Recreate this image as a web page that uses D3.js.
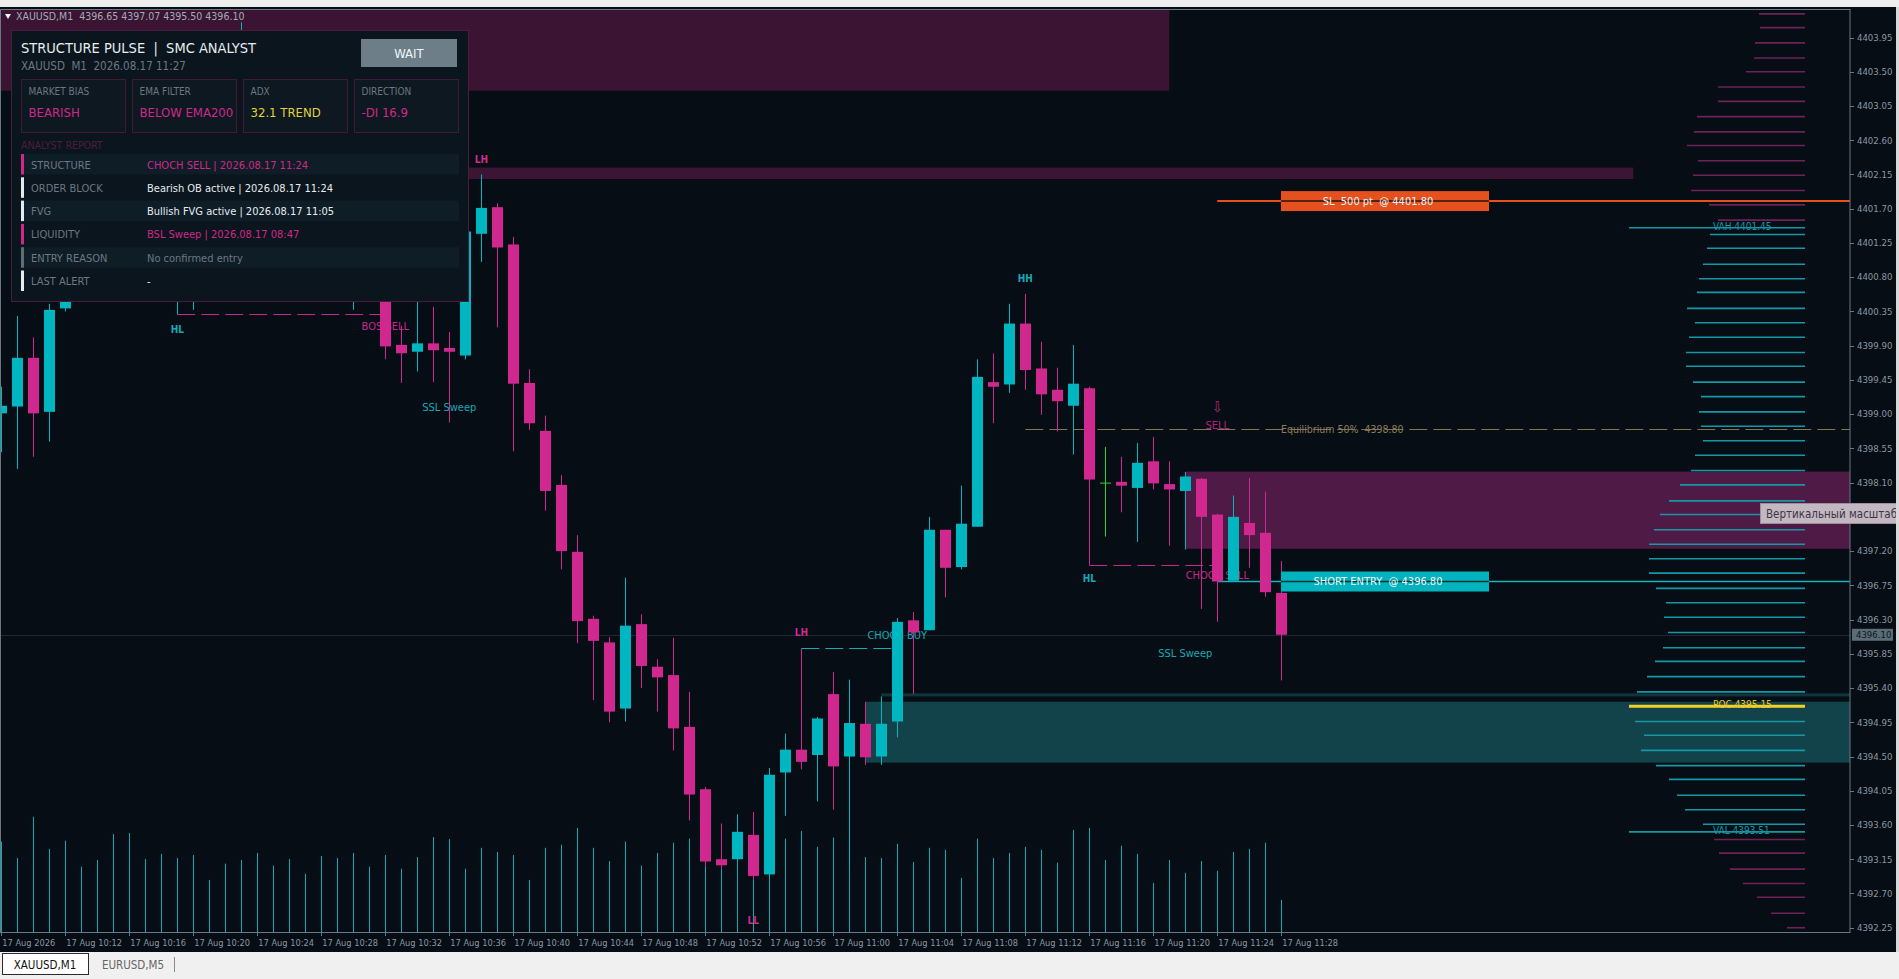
<!DOCTYPE html>
<html lang="en">
<head>
<meta charset="utf-8">
<script src="https://d3js.org/d3.v7.min.js"></script>
<style>
  body { margin: 0; background: #070d15; overflow: hidden; }
  text { font-family: 'Liberation Sans Narrow', 'DejaVu Sans Condensed', 'Arial Narrow', Roboto, sans-serif; white-space: pre; }
</style>
</head>
<body>
<script>
// XAUUSD M1, 17 Aug 2026 10:08 .. 11:28 (one bar per minute)
var OPEN  = [4399.01,4399.10,4399.74,4399.03,4400.39,4400.52,4400.98,4401.48,4401.10,4400.72,4401.02,4400.64,4401.28,4401.95,4402.62,4403.35,4403.45,4402.75,4402.10,4401.45,4401.70,4401.05,4400.85,4401.00,4400.68,4399.91,4399.82,4399.93,4399.87,4399.77,4401.37,4401.72,4401.23,4399.41,4398.78,4398.07,4397.19,4396.31,4396.00,4395.13,4396.24,4395.68,4395.57,4394.89,4394.07,4393.15,4393.15,4393.47,4392.95,4394.29,4394.59,4394.52,4395.32,4394.50,4394.93,4394.50,4394.96,4396.29,4396.16,4397.48,4396.99,4397.52,4399.42,4399.39,4400.19,4399.60,4399.32,4399.11,4399.34,4398.10,4398.11,4398.03,4398.38,4398.08,4397.99,4398.15,4397.68,4396.81,4397.57,4397.44,4396.65];
var HIGH  = [4399.36,4400.29,4400.01,4400.45,4400.62,4401.10,4401.62,4401.75,4401.35,4401.20,4401.18,4401.40,4402.15,4402.85,4403.55,4404.15,4403.70,4403.05,4402.40,4401.90,4401.85,4401.40,4401.20,4401.25,4400.80,4400.16,4400.50,4400.41,4400.08,4401.45,4402.15,4401.77,4401.33,4399.59,4398.98,4398.20,4397.41,4396.35,4396.07,4396.85,4396.37,4395.78,4396.06,4395.35,4394.10,4393.62,4393.74,4393.77,4394.35,4394.80,4395.92,4395.02,4395.61,4395.51,4395.22,4395.29,4396.32,4396.40,4397.65,4397.48,4398.06,4399.72,4399.80,4400.45,4400.58,4399.95,4399.61,4399.91,4399.36,4398.57,4398.44,4398.62,4398.70,4398.38,4398.24,4398.16,4397.69,4397.93,4398.16,4397.98,4397.07];
var LOW   = [4398.50,4398.28,4398.44,4398.64,4400.35,4400.50,4400.85,4400.95,4400.60,4400.55,4400.52,4400.31,4400.37,4401.80,4402.45,4403.20,4402.60,4401.95,4401.30,4401.10,4400.90,4400.60,4400.37,4400.55,4399.72,4399.41,4399.56,4399.42,4398.89,4399.72,4401.00,4400.14,4398.51,4398.79,4397.73,4396.96,4395.99,4395.24,4394.95,4394.96,4395.40,4395.09,4394.58,4393.66,4393.05,4393.02,4393.10,4392.88,4392.90,4393.72,4394.33,4393.91,4393.80,4393.05,4394.39,4394.39,4394.75,4395.32,4396.16,4396.59,4396.96,4397.52,4398.88,4399.28,4399.32,4398.99,4398.77,4398.47,4397.02,4397.39,4397.71,4397.32,4398.01,4397.27,4397.22,4396.44,4396.27,4396.81,4396.98,4396.60,4395.50];
var CLOSE = [4399.11,4399.74,4399.01,4400.37,4400.52,4400.98,4401.48,4401.10,4400.72,4401.02,4400.64,4401.28,4401.95,4402.62,4403.35,4403.45,4402.75,4402.10,4401.45,4401.70,4401.05,4400.85,4401.00,4400.68,4399.89,4399.80,4399.93,4399.84,4399.82,4401.40,4401.71,4401.19,4399.40,4398.88,4397.99,4397.20,4396.28,4396.02,4395.09,4396.22,4395.69,4395.54,4394.87,4394.00,4393.12,4393.07,4393.51,4392.93,4394.26,4394.59,4394.43,4395.00,4394.37,4394.94,4394.49,4394.93,4396.27,4396.13,4397.48,4396.98,4397.56,4399.49,4399.36,4400.19,4399.58,4399.26,4399.17,4399.40,4398.14,4398.10,4398.06,4398.36,4398.09,4398.01,4398.18,4397.65,4396.80,4397.65,4397.41,4396.66,4396.10];
var VOLUME = [177,145,226,163,179,128,141,192,194,143,153,145,151,102,134,141,155,130,143,114,149,145,155,128,151,124,147,186,182,124,165,157,151,102,165,171,204,165,139,177,130,155,175,183,171,153,138,159,133,183,198,167,185,150,147,145,173,137,165,161,106,183,145,155,167,161,136,200,204,141,169,153,96,141,116,139,120,157,163,175,63];

var TIME_LABELS = ["17 Aug 2026","17 Aug 10:12","17 Aug 10:16","17 Aug 10:20","17 Aug 10:24","17 Aug 10:28","17 Aug 10:32","17 Aug 10:36","17 Aug 10:40","17 Aug 10:44","17 Aug 10:48","17 Aug 10:52","17 Aug 10:56","17 Aug 11:00","17 Aug 11:04","17 Aug 11:08","17 Aug 11:12","17 Aug 11:16","17 Aug 11:20","17 Aug 11:24","17 Aug 11:28"];
var PRICE_TICKS = [4392.25,4392.70,4393.15,4393.60,4394.05,4394.50,4394.95,4395.40,4395.85,4396.30,4396.75,4397.20,4397.65,4398.10,4398.55,4399.00,4399.45,4399.90,4400.35,4400.80,4401.25,4401.70,4402.15,4402.60,4403.05,4403.50,4403.95];

// volume profile (price of bin, volume)
var PROFILE_PRICE = [4404.26,4404.08,4403.88,4403.68,4403.50,4403.30,4403.11,4402.91,4402.71,4402.53,4402.33,4402.14,4401.94,4401.75,4401.55,4401.36,4401.18,4400.97,4400.78,4400.60,4400.39,4400.20,4400.01,4399.81,4399.63,4399.42,4399.23,4399.03,4398.84,4398.65,4398.46,4398.26,4398.07,4397.86,4397.68,4397.48,4397.29,4397.10,4396.91,4396.71,4396.52,4396.33,4396.13,4395.93,4395.75,4395.55,4395.35,4395.16,4394.96,4394.78,4394.58,4394.38,4394.20,4393.99,4393.80,4393.61,4393.41,4393.23,4393.02,4392.83,4392.65,4392.44,4392.25];
var PROFILE_VOL = [46,45,50,51,59,87,87,108,111,118,107,112,114,96,87,95,98,102,106,108,118,110,116,119,119,112,104,106,104,102,110,114,125,136,145,151,156,156,156,149,139,141,137,142,150,158,168,176,170,161,164,149,136,128,120,102,91,86,75,62,48,34,18];
var VAH = 4401.45, POC = 4395.15, VAL = 4393.51;

// levels
var LAST_PRICE = 4396.10;
var EQUILIBRIUM = 4398.80;
var ENTRY = 4396.80;
var STOP = 4401.80;

// zones: [fromBar, toBar (or null = right edge), low, high, colour]
var ZONE_FROM = [-2, 14, 74, 54, 55];
var ZONE_TO   = [73, 102, null, null, null];
var ZONE_LOW  = [4403.25, 4402.09, 4397.23, 4394.42, 4395.29];
var ZONE_HIGH = [4404.60, 4402.24, 4398.245, 4395.22, 4395.33];
var ZONE_FILL = ["#3a1432", "#3c1535", "#4f1a45", "#12434a", "#0f353c"];

// structure lines: [fromBar, toBar, price, colour]
var SWING_FROM  = [11, 50, 68];
var SWING_TO    = [24, 56, 76];
var SWING_PRICE = [4400.31, 4395.92, 4397.02];
var SWING_COLOR = ["#c4288a", "#16aab5", "#c4288a"];

// chart labels
var LABEL_TEXT  = ["HL","BOS SELL","LH","SSL Sweep","LH","CHOCH BUY","LL","HH","HL","CHOCH SELL","SSL Sweep","SELL","\u21e9"];
var LABEL_BAR   = [11, 24, 30, 28, 50, 56, 47, 64, 68, 76, 74, 76, 76];
var LABEL_PRICE = [4400.11, 4400.15, 4402.34, 4399.09, 4396.13, 4396.09, 4392.34, 4400.78, 4396.84, 4396.88, 4395.86, 4398.85, 4399.10];
var LABEL_COLOR = ["#16aab5","#c4288a","#d12a8e","#16aab5","#d12a8e","#16aab5","#d12a8e","#16aab5","#16aab5","#c4288a","#16aab5","#b0237c","#b0237c"];

// dashboard panel
var BOX_LABELS = ["MARKET BIAS", "EMA FILTER", "ADX", "DIRECTION"];
var BOX_VALUES = ["BEARISH", "BELOW EMA200", "32.1 TREND", "-DI 16.9"];
var BOX_COLORS = ["#d0288a", "#d0288a", "#e0d23a", "#d0288a"];
var ROW_LABELS = ["STRUCTURE", "ORDER BLOCK", "FVG", "LIQUIDITY", "ENTRY REASON", "LAST ALERT"];
var ROW_VALUES = ["CHOCH SELL | 2026.08.17 11:24", "Bearish OB active | 2026.08.17 11:24", "Bullish FVG active | 2026.08.17 11:05", "BSL Sweep | 2026.08.17 08:47", "No confirmed entry", "-"];
var ROW_COLORS = ["#d0288a", "#e6ecef", "#e6ecef", "#d0288a", "#6c7882", "#e6ecef"];
var ROW_ACCENT = ["#d0288a", "#e3e9ec", "#e3e9ec", "#d0288a", "#5f6d76", "#e3e9ec"];

var width = 1899, height = 979;
var chartR = 1850, chartT = 9, chartB = 932;
var CYAN = "#00b7c1", MAGENTA = "#d1288f", DOJI = "#2ed12e";

var x = d3.scaleLinear().domain([0, 80]).range([1.3, 1281.3]);
var y = d3.scaleLinear().domain([4392.25, 4403.95]).range([927.7, 37.5]);
var volH = d3.scaleLinear().domain([0, 196]).range([0, 100]);
var profW = d3.scaleLinear().domain([0, 176]).range([0, 176]);
var profRight = 1805;

var svg = d3.select("body").append("svg")
    .attr("width", width)
    .attr("height", height);

svg.append("rect").attr("width", width).attr("height", height).attr("fill", "#070d15");

svg.append("defs").append("clipPath").attr("id", "plot")
  .append("rect").attr("x", 0).attr("y", chartT).attr("width", chartR).attr("height", chartB - chartT);

var plot = svg.append("g").attr("clip-path", "url(#plot)");

// zones
plot.selectAll("rect.zone")
  .data(ZONE_LOW)
  .enter().append("rect")
  .attr("class", "zone")
  .attr("x", function(d, i) { return x(ZONE_FROM[i]); })
  .attr("width", function(d, i) { return (ZONE_TO[i] === null ? chartR : x(ZONE_TO[i])) - x(ZONE_FROM[i]); })
  .attr("y", function(d, i) { return y(ZONE_HIGH[i]); })
  .attr("height", function(d, i) { return y(ZONE_LOW[i]) - y(ZONE_HIGH[i]); })
  .attr("fill", function(d, i) { return ZONE_FILL[i]; });

// current price line
plot.append("line")
  .attr("x1", 0).attr("x2", chartR)
  .attr("y1", Math.round(y(LAST_PRICE)) + 0.5).attr("y2", Math.round(y(LAST_PRICE)) + 0.5)
  .attr("stroke", "#1c2832");

// volumes
plot.selectAll("line.vol")
  .data(VOLUME)
  .enter().append("line")
  .attr("class", "vol")
  .attr("x1", function(d, i) { return Math.round(x(i)) + 0.5; })
  .attr("x2", function(d, i) { return Math.round(x(i)) + 0.5; })
  .attr("y1", chartB)
  .attr("y2", function(d) { return chartB - volH(d); })
  .attr("stroke", "#14a9b4");

// swing lines
plot.selectAll("line.swing")
  .data(SWING_PRICE)
  .enter().append("line")
  .attr("x1", function(d, i) { return x(SWING_FROM[i]); })
  .attr("x2", function(d, i) { return x(SWING_TO[i]); })
  .attr("y1", function(d) { return Math.round(y(d)) + 0.5; })
  .attr("y2", function(d) { return Math.round(y(d)) + 0.5; })
  .attr("stroke", function(d, i) { return SWING_COLOR[i]; })
  .attr("stroke-dasharray", "18,6");

// equilibrium
plot.append("line")
  .attr("x1", x(64)).attr("x2", chartR)
  .attr("y1", Math.round(y(EQUILIBRIUM)) + 0.5).attr("y2", Math.round(y(EQUILIBRIUM)) + 0.5)
  .attr("stroke", "#857552")
  .attr("stroke-dasharray", "18,6");
plot.append("text")
  .attr("x", 1281).attr("y", y(EQUILIBRIUM)).attr("dy", "0.35em")
  .attr("fill", "#8c7b56").attr("font-size", 10.5)
  .text("Equilibrium 50%  4398.80");

// stop and entry lines
plot.append("line")
  .attr("x1", x(76)).attr("x2", chartR)
  .attr("y1", y(STOP)).attr("y2", y(STOP))
  .attr("stroke", "#e4511f").attr("stroke-width", 2);
plot.append("line")
  .attr("x1", x(76)).attr("x2", chartR)
  .attr("y1", y(ENTRY)).attr("y2", y(ENTRY))
  .attr("stroke", "#14b3bd").attr("stroke-width", 1.5);

// structure labels
plot.selectAll("text.lbl")
  .data(LABEL_TEXT)
  .enter().append("text")
  .attr("class", "lbl")
  .attr("x", function(d, i) { return x(LABEL_BAR[i]); })
  .attr("y", function(d, i) { return y(LABEL_PRICE[i]); })
  .attr("dy", "0.35em")
  .attr("text-anchor", "middle")
  .attr("font-size", function(d) { return d === "\u21e9" ? 15 : (d.length <= 2 ? 10 : 11); })
  .attr("font-weight", function(d) { return d.length === 2 ? "bold" : "normal"; })
  .attr("fill", function(d, i) { return LABEL_COLOR[i]; })
  .text(function(d) { return d; });

// candles
var candle = plot.selectAll("g.candle")
  .data(OPEN)
  .enter().append("g")
  .attr("class", "candle");

function barColor(i) {
  if (CLOSE[i] > OPEN[i]) return CYAN;
  if (CLOSE[i] < OPEN[i]) return MAGENTA;
  return DOJI;
}

candle.append("line")
  .attr("x1", function(d, i) { return Math.round(x(i)) + 0.5; })
  .attr("x2", function(d, i) { return Math.round(x(i)) + 0.5; })
  .attr("y1", function(d, i) { return y(HIGH[i]); })
  .attr("y2", function(d, i) { return y(LOW[i]); })
  .attr("stroke", function(d, i) { return barColor(i); });

candle.append("rect")
  .attr("x", function(d, i) { return Math.round(x(i)) - 5; })
  .attr("width", 11)
  .attr("y", function(d, i) { return y(Math.max(OPEN[i], CLOSE[i])); })
  .attr("height", function(d, i) { return Math.max(1, y(Math.min(OPEN[i], CLOSE[i])) - y(Math.max(OPEN[i], CLOSE[i]))); })
  .attr("fill", function(d, i) { return barColor(i); });

// volume profile
plot.selectAll("line.prof")
  .data(PROFILE_VOL)
  .enter().append("line")
  .attr("class", "prof")
  .attr("x1", function(d) { return profRight - profW(d); })
  .attr("x2", profRight)
  .attr("y1", function(d, i) { return y(PROFILE_PRICE[i]); })
  .attr("y2", function(d, i) { return y(PROFILE_PRICE[i]); })
  .attr("stroke", function(d, i) {
    var p = PROFILE_PRICE[i];
    if (Math.abs(p - POC) < 0.05) return "#f2d02a";
    return (p > VAH || p < VAL) ? "#6d2258" : "#1598a6";
  })
  .attr("stroke-width", function(d, i) { return Math.abs(PROFILE_PRICE[i] - POC) < 0.05 ? 3 : 1.6; });

var maxVol = d3.max(PROFILE_VOL);
[VAH, VAL].forEach(function(p) {
  plot.append("line")
    .attr("x1", profRight - profW(maxVol)).attr("x2", profRight)
    .attr("y1", y(p)).attr("y2", y(p))
    .attr("stroke", "#1598a6").attr("stroke-width", 1.6);
});
plot.append("text").attr("x", 1713).attr("y", y(VAH) + 2).attr("font-size", 10).attr("fill", "#1598a6").text("VAH 4401.45");
plot.append("text").attr("x", 1713).attr("y", y(POC) + 1).attr("font-size", 10).attr("fill", "#e8c62c").text("POC 4395.15");
plot.append("text").attr("x", 1713).attr("y", y(VAL) + 2).attr("font-size", 10).attr("fill", "#1598a6").text("VAL 4393.51");

// trade boxes
function tradeBox(price, fill, mid, label) {
  plot.append("rect")
    .attr("x", 1281).attr("width", 208)
    .attr("y", y(price) - 10).attr("height", 20)
    .attr("fill", fill);
  plot.append("line")
    .attr("x1", 1281).attr("x2", 1489)
    .attr("y1", y(price)).attr("y2", y(price))
    .attr("stroke", mid).attr("stroke-width", 1.5);
  plot.append("text")
    .attr("x", 1378).attr("y", y(price)).attr("dy", "0.35em")
    .attr("text-anchor", "middle").attr("font-size", 11).attr("fill", "#f4f6f7")
    .text(label);
}
tradeBox(STOP, "#e4511f", "#2a1410", "SL  500 pt  @ 4401.80");
tradeBox(ENTRY, "#00b3bd", "#073238", "SHORT ENTRY  @ 4396.80");

// frame
svg.append("rect")
  .attr("x", 0.5).attr("y", chartT + 0.5)
  .attr("width", chartR - 0.5).attr("height", chartB - chartT)
  .attr("fill", "none").attr("stroke", "#6b7883");

// price axis
var pAxis = svg.append("g");
pAxis.selectAll("line")
  .data(PRICE_TICKS)
  .enter().append("line")
  .attr("x1", chartR).attr("x2", chartR + 4)
  .attr("y1", function(d) { return Math.round(y(d)) + 0.5; })
  .attr("y2", function(d) { return Math.round(y(d)) + 0.5; })
  .attr("stroke", "#6b7883");
pAxis.selectAll("text")
  .data(PRICE_TICKS)
  .enter().append("text")
  .attr("x", chartR + 7)
  .attr("y", function(d) { return y(d); })
  .attr("dy", "0.35em")
  .attr("font-size", 9.5)
  .attr("fill", "#8b97a1")
  .text(function(d) { return d.toFixed(2); });

// last price tag
svg.append("rect").attr("x", 1852).attr("y", y(LAST_PRICE) - 6).attr("width", 41).attr("height", 12).attr("fill", "#5b6c77");
svg.append("text").attr("x", 1856).attr("y", y(LAST_PRICE)).attr("dy", "0.35em")
  .attr("font-size", 9.5).attr("fill", "#0d171f").text(LAST_PRICE.toFixed(2));

// time axis
var tAxis = svg.append("g");
tAxis.selectAll("line")
  .data(TIME_LABELS)
  .enter().append("line")
  .attr("x1", function(d, i) { return Math.round(x(i * 4)) + 0.5; })
  .attr("x2", function(d, i) { return Math.round(x(i * 4)) + 0.5; })
  .attr("y1", chartB).attr("y2", chartB + 4)
  .attr("stroke", "#6b7883");
tAxis.selectAll("text")
  .data(TIME_LABELS)
  .enter().append("text")
  .attr("x", function(d, i) { return x(i * 4) + 1; })
  .attr("y", 946)
  .attr("font-size", 9.2)
  .attr("fill", "#8b97a1")
  .text(function(d) { return d; });

// header line
svg.append("rect").attr("width", width).attr("height", 7).attr("fill", "#eeeeee");
svg.append("path").attr("d", "M5,14 L11,14 L8,19 Z").attr("fill", "#f2f2f2");
svg.append("text").attr("x", 16).attr("y", 20).attr("font-size", 10.5).attr("fill", "#a3acb3")
  .text("XAUUSD,M1  4396.65 4397.07 4395.50 4396.10");

// dashboard panel
var panel = svg.append("g");
panel.append("rect")
  .attr("x", 11.5).attr("y", 30.5).attr("width", 457).attr("height", 271)
  .attr("fill", "#0b151d").attr("stroke", "#4a1c40");
panel.append("text").attr("x", 21).attr("y", 53).attr("font-size", 14.5).attr("fill", "#e6ecef")
  .text("STRUCTURE PULSE  |  SMC ANALYST");
panel.append("text").attr("x", 21).attr("y", 70).attr("font-size", 11.5).attr("fill", "#6c7882")
  .text("XAUUSD  M1  2026.08.17 11:27");
panel.append("rect").attr("x", 361).attr("y", 39).attr("width", 96).attr("height", 28).attr("fill", "#6d7e88");
panel.append("text").attr("x", 409).attr("y", 53).attr("dy", "0.35em").attr("text-anchor", "middle")
  .attr("font-size", 13).attr("fill", "#f2f5f7").text("WAIT");

var box = panel.selectAll("g.box")
  .data(BOX_LABELS)
  .enter().append("g")
  .attr("class", "box")
  .attr("transform", function(d, i) { return "translate(" + (21.5 + i * 111) + ",79.5)"; });
box.append("rect").attr("width", 104).attr("height", 53).attr("fill", "#0d1820").attr("stroke", "#43193a");
box.append("text").attr("x", 7).attr("y", 15).attr("font-size", 10).attr("fill", "#6c7882")
  .text(function(d) { return d; });
box.append("text").attr("x", 7).attr("y", 37).attr("font-size", 13)
  .attr("fill", function(d, i) { return BOX_COLORS[i]; })
  .text(function(d, i) { return BOX_VALUES[i]; });

panel.append("text").attr("x", 21).attr("y", 149).attr("font-size", 10.5).attr("fill", "#4c1d40")
  .text("ANALYST REPORT");

var row = panel.selectAll("g.row")
  .data(ROW_LABELS)
  .enter().append("g")
  .attr("class", "row")
  .attr("transform", function(d, i) { return "translate(21," + (154 + i * 23.3) + ")"; });
row.append("rect").attr("width", 438).attr("height", 20.5)
  .attr("fill", function(d, i) { return i % 2 === 0 ? "#0f1d27" : "#0b151d"; });
row.append("rect").attr("width", 3).attr("height", 20.5)
  .attr("fill", function(d, i) { return ROW_ACCENT[i]; });
row.append("text").attr("x", 10).attr("y", 14.5).attr("font-size", 11).attr("fill", "#6c7882")
  .text(function(d) { return d; });
row.append("text").attr("x", 126).attr("y", 14.5).attr("font-size", 11)
  .attr("fill", function(d, i) { return ROW_COLORS[i]; })
  .text(function(d, i) { return ROW_VALUES[i]; });

// tooltip
svg.append("rect").attr("x", 1760.5).attr("y", 503.5).attr("width", 140).attr("height", 20)
  .attr("fill", "#c3b8c2").attr("stroke", "#9b909a");
svg.append("text").attr("x", 1766).attr("y", 518).attr("font-size", 11.5).attr("fill", "#3c3644")
  .text("Вертикальный масштаб");

// terminal tabs
svg.append("rect").attr("y", 952).attr("width", width).attr("height", 27).attr("fill", "#f0f0f0");
svg.append("rect").attr("x", 2.5).attr("y", 953.5).attr("width", 86).attr("height", 21)
  .attr("fill", "#ffffff").attr("stroke", "#2a2a2a");
svg.append("text").attr("x", 45).attr("y", 969).attr("text-anchor", "middle").attr("font-size", 11.5)
  .attr("fill", "#111").text("XAUUSD,M1");
svg.append("text").attr("x", 133).attr("y", 969).attr("text-anchor", "middle").attr("font-size", 11.5)
  .attr("fill", "#666").text("EURUSD,M5");
svg.append("line").attr("x1", 174.5).attr("x2", 174.5).attr("y1", 957).attr("y2", 972).attr("stroke", "#888");
svg.append("rect").attr("x", 1896).attr("y", 7).attr("width", 3).attr("height", 945).attr("fill", "#d8d8d8");
</script>
</body>
</html>
